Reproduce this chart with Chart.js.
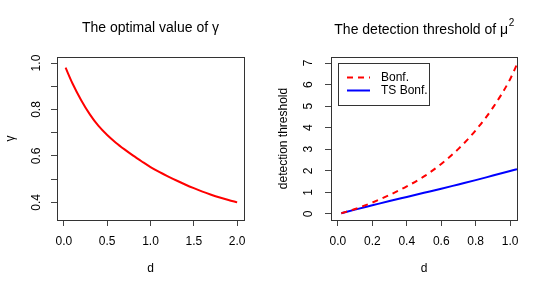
<!DOCTYPE html>
<html>
<head>
<meta charset="utf-8">
<script src="https://cdn.jsdelivr.net/npm/chart.js@4"></script>
<style>
  html, body { margin: 0; padding: 0; background: #fff; }
  #wrap { position: relative; width: 547px; height: 292px; }
  .panel { position: absolute; top: 0; height: 292px; }
</style>
</head>
<body>
<div id="wrap">
  <div class="panel" style="left:0;width:273px"><canvas id="gammaChart" width="273" height="292"></canvas></div>
  <div class="panel" style="left:273px;width:274px"><canvas id="thresholdChart" width="274" height="292"></canvas></div>
</div>
<script>
// left panel: optimal gamma
const gammaD = [0.02, 0.1, 0.2, 0.3, 0.4, 0.5, 0.6, 0.7, 0.8, 0.9, 1.0, 1.1, 1.2, 1.3, 1.4, 1.5, 1.6, 1.7, 1.8, 1.9, 2.0];
const gammaVal = [0.98, 0.912, 0.84, 0.779, 0.729, 0.69, 0.657, 0.628, 0.601, 0.576, 0.552, 0.531, 0.512, 0.494, 0.477, 0.461, 0.446, 0.433, 0.421, 0.41, 0.40];
const gammaXTicks = [0, 0.5, 1.0, 1.5, 2.0];
const gammaYTicks = [0.4, 0.5, 0.6, 0.7, 0.8, 0.9, 1.0];
const gammaYLabels = [0.4, 0.6, 0.8, 1.0];

// right panel: detection threshold
const thrD = [0.02, 0.1, 0.2, 0.3, 0.4, 0.5, 0.6, 0.7, 0.8, 0.9, 1.0, 1.04];
const bonf = [0.03, 0.23, 0.53, 0.88, 1.28, 1.74, 2.32, 3.02, 3.88, 4.93, 6.25, 6.95];
const tsBonf = [0.03, 0.2, 0.4, 0.6, 0.79, 0.98, 1.17, 1.37, 1.57, 1.78, 1.99, 2.08];
const thrXTicks = [0, 0.2, 0.4, 0.6, 0.8, 1.0];
const thrYTicks = [0, 1, 2, 3, 4, 5, 6, 7];

Chart.defaults.font.family = "'Liberation Sans', Arial, sans-serif";
Chart.defaults.font.size = 12;
Chart.defaults.color = '#000';

const toPts = (xs, ys) => xs.map((x, i) => ({ x: x, y: ys[i] }));

// R-like frame, main title and legend
const rFrame = {
  id: 'rFrame',
  afterDraw(chart, args, opts) {
    const { ctx, chartArea: a } = chart;
    ctx.save();
    ctx.strokeStyle = '#333';
    ctx.lineWidth = 1;
    ctx.strokeRect(a.left + 0.5, a.top + 0.5, a.right - a.left, a.bottom - a.top);
    const cx = (a.left + a.right) / 2;
    ctx.fillStyle = '#000';
    ctx.textBaseline = 'alphabetic';
    ctx.font = "14px 'Liberation Sans', Arial, sans-serif";
    const w = ctx.measureText(opts.title).width;
    let supW = 0;
    if (opts.sup) {
      ctx.font = "10px 'Liberation Sans', Arial, sans-serif";
      supW = ctx.measureText(opts.sup).width;
    }
    const x0 = cx - (w + supW) / 2;
    ctx.font = "14px 'Liberation Sans', Arial, sans-serif";
    ctx.textAlign = 'left';
    ctx.fillText(opts.title, x0, opts.y);
    if (opts.sup) {
      ctx.font = "10px 'Liberation Sans', Arial, sans-serif";
      ctx.fillText(opts.sup, x0 + w + 0.5, opts.y - 8);
    }
    if (opts.legend) {
      const lx = a.left + 7, ly = a.top + 6;
      ctx.strokeStyle = '#333';
      ctx.strokeRect(lx + 0.5, ly + 0.5, 91, 42);
      ctx.font = "12px 'Liberation Sans', Arial, sans-serif";
      ctx.textBaseline = 'middle';
      opts.legend.forEach((it, i) => {
        const yy = ly + 14.5 + i * 13;
        ctx.strokeStyle = it.color;
        ctx.lineWidth = 2;
        ctx.setLineDash(it.dash || []);
        ctx.beginPath();
        ctx.moveTo(lx + 9, yy);
        ctx.lineTo(lx + 32, yy);
        ctx.stroke();
        ctx.setLineDash([]);
        ctx.fillText(it.label, lx + 43, yy + 0.5);
      });
    }
    ctx.restore();
  }
};

function rScales(xr, yr, xTicks, yTicks, xFmt, yFmt, yPad, xTitle, yTitle, yWidth) {
  return {
    x: {
      type: 'linear', min: xr[0], max: xr[1],
      afterBuildTicks: s => { s.ticks = xTicks.map(v => ({ value: v })); },
      afterFit: s => { s.height = 72; },
      grid: { display: true, drawOnChartArea: false, tickLength: 6, color: '#444' },
      border: { display: false },
      ticks: { padding: 8, maxRotation: 0, autoSkip: false, callback: xFmt },
      title: { display: true, text: xTitle, padding: { top: 0, bottom: 16 } }
    },
    y: {
      type: 'linear', min: yr[0], max: yr[1],
      afterBuildTicks: s => { s.ticks = yTicks.map(v => ({ value: v })); },
      afterFit: s => { s.width = yWidth; },
      grid: { display: true, drawOnChartArea: false, tickLength: 6, color: '#444' },
      border: { display: false },
      ticks: { padding: yPad, minRotation: 90, maxRotation: 90, crossAlign: 'center', autoSkip: false, callback: yFmt },
      title: { display: true, text: yTitle, padding: { top: 3, bottom: 0 } }
    }
  };
}

const gammaChart = new Chart(document.getElementById('gammaChart'), {
  type: 'line',
  data: {
    datasets: [{
      data: toPts(gammaD, gammaVal),
      borderColor: '#ff0000',
      borderWidth: 2,
      pointRadius: 0,
      cubicInterpolationMode: 'monotone'
    }]
  },
  options: {
    responsive: false,
    animation: false,
    layout: { padding: { top: 57, right: 29, left: 0, bottom: 0 } },
    scales: rScales([-0.0792, 2.0792], [0.324, 1.026], gammaXTicks, gammaYTicks,
      v => v.toFixed(1),
      v => gammaYLabels.some(l => Math.abs(l - v) < 1e-6) ? v.toFixed(1) : '',
      6, 'd', 'γ', 57),
    plugins: {
      legend: { display: false },
      tooltip: { enabled: false },
      rFrame: { title: 'The optimal value of γ', y: 32 }
    }
  },
  plugins: [rFrame]
});

const thresholdChart = new Chart(document.getElementById('thresholdChart'), {
  type: 'line',
  data: {
    datasets: [{
      label: 'Bonf.',
      data: toPts(thrD, bonf),
      borderColor: '#ff0000',
      borderWidth: 2,
      borderDash: [6, 5],
      pointRadius: 0,
      cubicInterpolationMode: 'monotone'
    }, {
      label: 'TS Bonf.',
      data: toPts(thrD, tsBonf),
      borderColor: '#0000ff',
      borderWidth: 2,
      pointRadius: 0,
      cubicInterpolationMode: 'monotone'
    }]
  },
  options: {
    responsive: false,
    animation: false,
    layout: { padding: { top: 57, right: 30, left: 0, bottom: 0 } },
    scales: rScales([-0.04, 1.04], [-0.28, 7.28], thrXTicks, thrYTicks,
      v => v.toFixed(1),
      v => String(v),
      13, 'd', 'detection threshold', 58),
    plugins: {
      legend: { display: false },
      tooltip: { enabled: false },
      rFrame: {
        title: 'The detection threshold of μ', sup: '2', y: 34,
        legend: [
          { label: 'Bonf.', color: '#ff0000', dash: [6, 5] },
          { label: 'TS Bonf.', color: '#0000ff' }
        ]
      }
    }
  },
  plugins: [rFrame]
});
</script>
</body>
</html>
